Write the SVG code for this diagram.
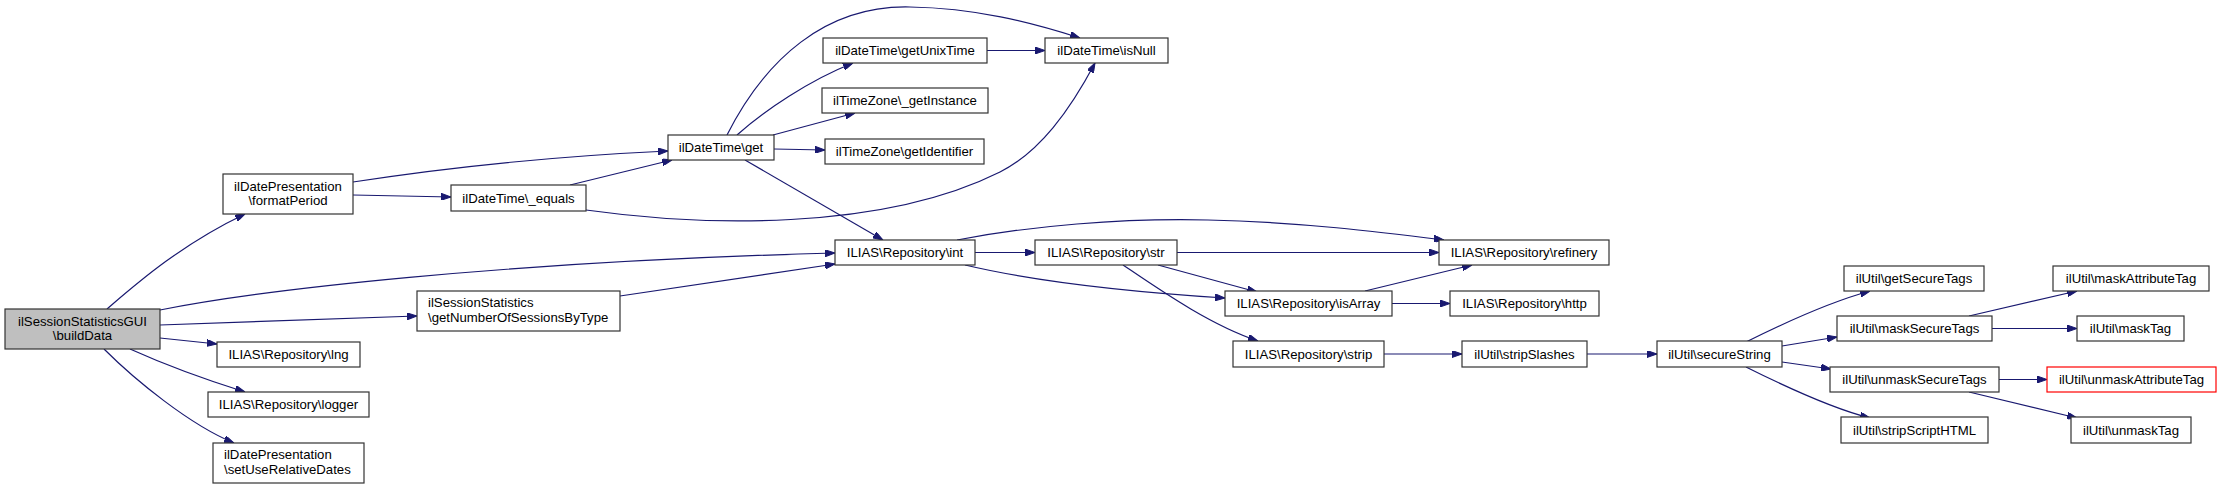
<svg xmlns="http://www.w3.org/2000/svg" width="2221" height="490" viewBox="0 0 2221 490">
<style>
.n rect{fill:#ffffff;stroke:#333333;stroke-width:1.2}
.n.root rect{fill:#bfbfbf}
.n.red rect{stroke:#ff0000}
.n text{font-family:"Liberation Sans",Arial,Helvetica,sans-serif;font-size:13.2px;fill:#000;text-anchor:middle}
.n text.l{text-anchor:start}
.e path{fill:none;stroke:#191970;stroke-width:1.2;marker-end:url(#ah)}
</style>
<defs>
<marker id="ah" viewBox="0 0 10 7" refX="10" refY="3.5" markerWidth="10" markerHeight="7" markerUnits="userSpaceOnUse" orient="auto">
<path d="M0,0 L10,3.5 L0,7 z" fill="#191970" stroke="#191970" stroke-width="1"/>
</marker>
</defs>
<rect x="0" y="0" width="2221" height="490" fill="#ffffff"/>
<g id="edges" class="e">
<path d="M107,309 C135,285 180,245 245,214"/>
<path d="M160,310 C260,290 500,262 835,253"/>
<path d="M160,325 L417,316"/>
<path d="M160,338 L217,344"/>
<path d="M130,349 C170,367 210,381 245,392"/>
<path d="M104,349 C135,380 190,425 234,443"/>
<path d="M353,182 C450,167 560,156 668,151"/>
<path d="M353,195 L451,197"/>
<path d="M570,185 L672,160"/>
<path d="M586,210 C700,226 880,232 1000,172 C1040,152 1070,110 1095,63"/>
<path d="M727,135 C765,60 825,5 910,7 C975,8 1030,22 1080,38"/>
<path d="M737,135 C765,110 810,80 853,63"/>
<path d="M773,135 L855,113"/>
<path d="M774,149 L825,150"/>
<path d="M745,160 L883,240"/>
<path d="M987,50.5 L1045,50.5"/>
<path d="M620,296 L835,264"/>
<path d="M975,252.5 L1035,252.5"/>
<path d="M957,240 C1030,226 1120,218 1208,220 C1300,222 1380,232 1444,240"/>
<path d="M965,265 C1020,278 1100,290 1225,298"/>
<path d="M1177,252.5 L1439,252.5"/>
<path d="M1158,265 L1257,292"/>
<path d="M1123,265 C1160,290 1210,325 1258,341"/>
<path d="M1365,291 L1472,265"/>
<path d="M1392,303.5 L1450,303.5"/>
<path d="M1384,354 L1462,354"/>
<path d="M1587,354 L1657,354"/>
<path d="M1746,342 C1780,325 1830,302 1870,291"/>
<path d="M1782,346 L1837,337"/>
<path d="M1782,362 L1831,369"/>
<path d="M1746,367 C1780,384 1830,408 1870,418"/>
<path d="M1969,316 L2077,291"/>
<path d="M1992,328.5 L2077,328.5"/>
<path d="M1999,379.5 L2047,379.5"/>
<path d="M1969,392 L2077,418"/>
</g>
<g id="buildData" class="n root"><rect x="5" y="309" width="155" height="40"/><text x="82.5" y="325.5">ilSessionStatisticsGUI</text><text x="82.5" y="340">\buildData</text></g>
<g id="formatPeriod" class="n"><rect x="223" y="174" width="130" height="40"/><text x="288" y="190.5">ilDatePresentation</text><text x="288" y="205">\formatPeriod</text></g>
<g id="getNumberOfSessionsByType" class="n"><rect x="417" y="291" width="203" height="40"/><text class="l" x="428" y="307">ilSessionStatistics</text><text class="l" x="428" y="321.5">\getNumberOfSessionsByType</text></g>
<g id="lng" class="n"><rect x="217" y="342" width="143" height="25"/><text x="288.5" y="359">ILIAS\Repository\lng</text></g>
<g id="logger" class="n"><rect x="208" y="392" width="161" height="25"/><text x="288.5" y="409">ILIAS\Repository\logger</text></g>
<g id="setUseRelativeDates" class="n"><rect x="213" y="443" width="151" height="40"/><text class="l" x="224" y="459">ilDatePresentation</text><text class="l" x="224" y="473.5">\setUseRelativeDates</text></g>
<g id="equals" class="n"><rect x="451" y="185" width="135" height="26"/><text x="518.5" y="202.5">ilDateTime\_equals</text></g>
<g id="get" class="n"><rect x="668" y="135" width="106" height="25"/><text x="721" y="152">ilDateTime\get</text></g>
<g id="getUnixTime" class="n"><rect x="823" y="38" width="164" height="25"/><text x="905" y="55">ilDateTime\getUnixTime</text></g>
<g id="getInstance" class="n"><rect x="822" y="88" width="166" height="25"/><text x="905" y="105">ilTimeZone\_getInstance</text></g>
<g id="getIdentifier" class="n"><rect x="825" y="139" width="159" height="25"/><text x="904.5" y="156">ilTimeZone\getIdentifier</text></g>
<g id="isNull" class="n"><rect x="1045" y="38" width="123" height="25"/><text x="1106.5" y="55">ilDateTime\isNull</text></g>
<g id="int" class="n"><rect x="835" y="240" width="140" height="25"/><text x="905" y="257">ILIAS\Repository\int</text></g>
<g id="str" class="n"><rect x="1035" y="240" width="142" height="25"/><text x="1106" y="257">ILIAS\Repository\str</text></g>
<g id="refinery" class="n"><rect x="1439" y="240" width="170" height="25"/><text x="1524" y="257">ILIAS\Repository\refinery</text></g>
<g id="isArray" class="n"><rect x="1225" y="291" width="167" height="25"/><text x="1308.5" y="308">ILIAS\Repository\isArray</text></g>
<g id="http" class="n"><rect x="1450" y="291" width="149" height="25"/><text x="1524.5" y="308">ILIAS\Repository\http</text></g>
<g id="strip" class="n"><rect x="1233" y="341" width="151" height="26"/><text x="1308.5" y="358.5">ILIAS\Repository\strip</text></g>
<g id="stripSlashes" class="n"><rect x="1462" y="341" width="125" height="26"/><text x="1524.5" y="358.5">ilUtil\stripSlashes</text></g>
<g id="secureString" class="n"><rect x="1657" y="341" width="125" height="26"/><text x="1719.5" y="358.5">ilUtil\secureString</text></g>
<g id="getSecureTags" class="n"><rect x="1844" y="266" width="140" height="25"/><text x="1914" y="283">ilUtil\getSecureTags</text></g>
<g id="maskSecureTags" class="n"><rect x="1837" y="316" width="155" height="25"/><text x="1914.5" y="333">ilUtil\maskSecureTags</text></g>
<g id="unmaskSecureTags" class="n"><rect x="1830" y="367" width="169" height="25"/><text x="1914.5" y="384">ilUtil\unmaskSecureTags</text></g>
<g id="stripScriptHTML" class="n"><rect x="1841" y="417" width="147" height="26"/><text x="1914.5" y="434.5">ilUtil\stripScriptHTML</text></g>
<g id="maskAttributeTag" class="n"><rect x="2053" y="266" width="156" height="25"/><text x="2131" y="283">ilUtil\maskAttributeTag</text></g>
<g id="maskTag" class="n"><rect x="2077" y="316" width="107" height="25"/><text x="2130.5" y="333">ilUtil\maskTag</text></g>
<g id="unmaskAttributeTag" class="n red"><rect x="2047" y="367" width="169" height="25"/><text x="2131.5" y="384">ilUtil\unmaskAttributeTag</text></g>
<g id="unmaskTag" class="n"><rect x="2071" y="417" width="120" height="26"/><text x="2131" y="434.5">ilUtil\unmaskTag</text></g>
</svg>
